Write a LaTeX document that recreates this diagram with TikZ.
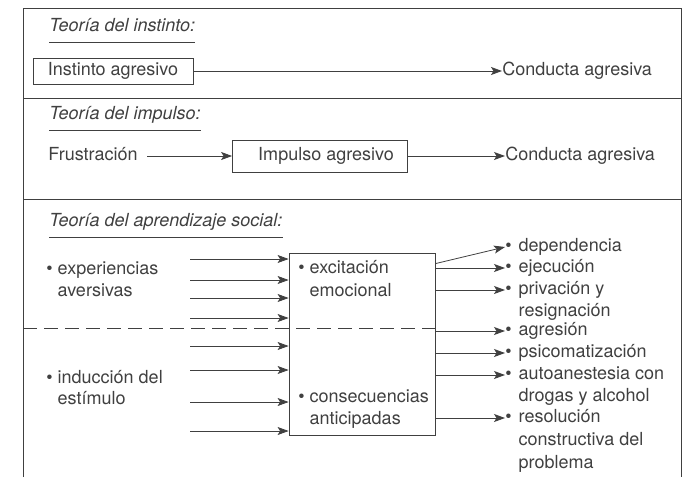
\documentclass[tikz,border=0pt]{standalone}
\usepackage{fontspec}
\setmainfont{TeX Gyre Heros}
\usetikzlibrary{arrows.meta}

\begin{document}
\begin{tikzpicture}[x=1pt,y=-1pt,>={Stealth[length=11pt,width=8pt,inset=2.5pt]},line width=0.8pt,color=black!75,
    text node/.style={anchor=west,inner sep=0pt,text height=13pt,text depth=4pt,font=\fontsize{18}{22}\selectfont},
    head node/.style={text node,font=\fontsize{18}{22}\selectfont\itshape},
    box node/.style={draw,inner sep=0pt,font=\fontsize{18}{22}\selectfont},
    arr/.style={->},
    cut line/.style={dash pattern=on 14pt off 7pt}]

                \useasboundingbox (0,0) rectangle (684,477);

                % marco y separadores
                \draw (23,477) -- (23,8) -- (681,8) -- (681,477);
                \draw (23,98) -- (681,98);
                \draw (23,199) -- (681,199);

                % teoria del instinto
                \node[head node] (h1) at (49,27) {Teoría del instinto:};
                \draw ([yshift=-6.5pt]h1.south west) -- ([yshift=-6.5pt]h1.south east);
                \node[box node, minimum width=160pt, minimum height=26pt] (ins) at (113,71) {Instinto agresivo};
                \node[text node] (cond1) at (502,71) {Conducta agresiva};
                \draw[arr] (ins.east) to (cond1.west);

                % teoria del impulso
                \node[head node] (h2) at (49,115) {Teoría del impulso:};
                \draw ([yshift=-6.5pt]h2.south west) -- ([yshift=-6.5pt]h2.south east);
                \node[text node] (fru) at (48,156) {Frustración};
                \node[box node, minimum width=175pt, minimum height=32pt] (imp) at (320,156) {\hspace{12pt}Impulso agresivo};
                \node[text node] (cond2) at (505,156) {Conducta agresiva};
                \draw[arr, shorten <=9pt] (fru.east) to (imp.west);
                \draw[arr] (imp.east) to (cond2.west);

                % teoria del aprendizaje social
                \node[head node] (h3) at (49,222) {Teoría del aprendizaje social:};
                \draw ([yshift=-6.5pt]h3.south west) -- ([yshift=-6.5pt]h3.south east);
                \node[box node, minimum width=146pt, minimum height=182pt] (caja) at (362,344) {};

                \node[text node] (exp1) at (46,270) {•~experiencias};
                \node[text node] (exp2) at (46,292) {\phantom{•}~aversivas};
                \node[text node] (ind1) at (46,379) {•~inducción del};
                \node[text node] (ind2) at (46,400) {\phantom{•}~estímulo};

                \node[text node] (exc1) at (298,269) {•~excitación};
                \node[text node] (exc2) at (298,292) {\phantom{•}~emocional};
                \node[text node] (con1) at (298,398) {•~consecuencias};
                \node[text node] (con2) at (298,420) {\phantom{•}~anticipadas};

                \node[text node] (dep) at (505,247) {•\hspace{7pt}dependencia};
                \node[text node] (eje) at (505,268) {•\hspace{7pt}ejecución};
                \node[text node] (pri1) at (505,290) {•\hspace{7pt}privación y};
                \node[text node] (pri2) at (505,312) {\phantom{•}\hspace{7pt}resignación};
                \node[text node] (agr) at (505,331) {•\hspace{7pt}agresión};
                \node[text node] (psi) at (505,353) {•\hspace{7pt}psicomatización};
                \node[text node] (aut1) at (505,375) {•\hspace{7pt}autoanestesia con};
                \node[text node] (aut2) at (505,397) {\phantom{•}\hspace{7pt}drogas y alcohol};
                \node[text node] (res1) at (505,418) {•\hspace{7pt}resolución};
                \node[text node] (res2) at (505,441) {\phantom{•}\hspace{7pt}constructiva del};
                \node[text node] (res3) at (505,464) {\phantom{•}\hspace{7pt}problema};

                \coordinate (dl) at (23,328);
                \draw[cut line] (dl) -- (dl -| caja.east);

                \foreach \y [count=\i] in {259,280,298,318,346,370,402,431} {
                    \coordinate (in\i) at (190,\y);
                    \draw[arr] (in\i) to (in\i -| caja.west);
                }

                \draw[arr] ([yshift=-11pt]caja.north east) to (dep.west);
                \foreach \n in {eje,pri1,agr,psi,aut1,res1}
                    \draw[arr] (caja.east |- \n.west) to (\n.west);

                ;
            \end{tikzpicture}
\end{document}
